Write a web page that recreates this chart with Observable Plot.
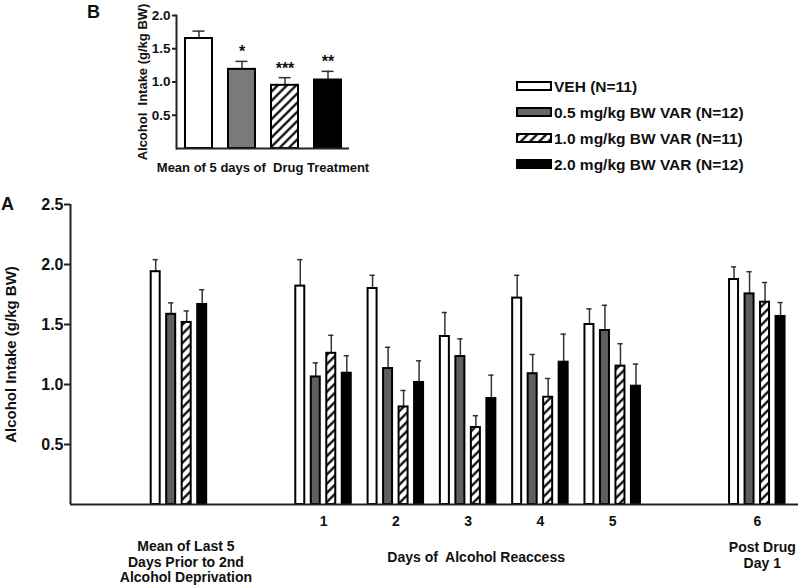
<!DOCTYPE html>
<html><head><meta charset="utf-8">
<script src="https://cdn.jsdelivr.net/npm/d3@7"></script>
<script src="https://cdn.jsdelivr.net/npm/@observablehq/plot@0.6"></script>
<style>
body{margin:0;background:#fff;width:800px;height:587px;position:relative;overflow:hidden;font-family:"Liberation Sans",Arial,sans-serif;}
#b{position:absolute;left:0;top:0}
#a{position:absolute;left:0;top:190px}
#legend{position:absolute;left:505px;top:70px}
#defs{position:absolute;left:0;top:0;width:0;height:0}
svg text{white-space:pre}
</style></head><body>
<svg id="defs" width="0" height="0"><defs>
<pattern id="hatch" patternUnits="userSpaceOnUse" width="6.5" height="6.5" patternTransform="rotate(45)">
<rect width="6.5" height="6.5" fill="#fff"/><line x1="3.25" y1="-1" x2="3.25" y2="8" stroke="#000" stroke-width="2.2"/></pattern>
</defs></svg>
<div id="b"></div><div id="legend"></div><div id="a"></div>
<script>
// ---------- data ----------
const series = ["VEH (N=11)", "0.5 mg/kg BW VAR (N=12)", "1.0 mg/kg BW VAR (N=11)", "2.0 mg/kg BW VAR (N=12)"];
const groupsA = ["pre", "1", "2", "3", "4", "5", "6"];
const meansA = [
  [1.94, 1.585, 1.517, 1.667],
  [1.82, 1.063, 1.26, 1.094],
  [1.80, 1.133, 0.813, 1.017],
  [1.40, 1.233, 0.642, 0.883],
  [1.72, 1.09, 0.894, 1.186],
  [1.50, 1.45, 1.153, 0.986],
  [1.875, 1.755, 1.686, 1.567]
];
const semA = [
  [0.10, 0.095, 0.096, 0.123],
  [0.22, 0.117, 0.15, 0.146],
  [0.11, 0.177, 0.137, 0.18],
  [0.20, 0.147, 0.098, 0.195],
  [0.19, 0.16, 0.156, 0.234],
  [0.13, 0.21, 0.187, 0.184],
  [0.105, 0.185, 0.164, 0.116]
];
const dayTicks = ["1", "2", "3", "4", "5", "6"];
const groupLabels = ["Mean of Last 5\nDays Prior to 2nd\nAlcohol Deprivation", "Days of  Alcohol Reaccess", "Post Drug\nDay 1"];
const yTicksA = [0.5, 1.0, 1.5, 2.0, 2.5];
const yLabel = "Alcohol Intake (g/kg BW)";
const yLabelB = "Alcohol  Intake (g/kg BW)";

const meansB = [1.654, 1.19, 0.95, 1.03];
const semB = [0.111, 0.12, 0.115, 0.13];
const starsB = ["", "*", "***", "**"];
const xLabelB = "Mean of 5 days of  Drug Treatment";
const yTicksB = [0.5, 1.0, 1.5, 2.0];

// ---------- styles / layout ----------
const FONT = '"Liberation Sans", Arial, sans-serif';
const fillsA = ["#ffffff", "#5f5f5f", "url(#hatch)", "#000000"];
const fillsB = ["#ffffff", "#7a7a7a", "url(#hatch)", "#000000"];
const fillsL = ["#ffffff", "#666666", "url(#hatch)", "#000000"];
const slotOf = new Map([["pre", 0], ["1", 2], ["2", 3], ["3", 4], ["4", 5], ["5", 6], ["6", 8]]);
const step = 0.2144, half = 0.0622, cap = 0.036;

const rowsA = groupsA.flatMap((g, gi) => series.map((s, si) => ({
  g, s, si, mean: meansA[gi][si], top: meansA[gi][si] + semA[gi][si],
  cx: slotOf.get(g) + (si - 1.5) * step
})));

const labelX = [slotOf.get("pre"), d3.mean(["1","2","3","4","5"], d => slotOf.get(d)), slotOf.get("6")];
const groupText = (i, dx, dy) => Plot.text([groupLabels[i]], {x: labelX[i], y: 0, dx, dy, lineAnchor: "top", lineHeight: 1.1, fontSize: 14});

const plotA = Plot.plot({
  width: 800, height: 397, marginLeft: 70, marginRight: 2, marginTop: 14, marginBottom: 83,
  x: {domain: [-1.5, 8.57], axis: null},
  y: {domain: [0, 2.5], axis: null},
  color: {domain: series, range: fillsA},
  style: {fontFamily: FONT, fontWeight: "bold", color: "#111", background: "transparent", overflow: "visible"},
  marks: [
    Plot.ruleX(rowsA, {x: "cx", y1: "mean", y2: "top", stroke: "#333", strokeWidth: 1.5}),
    Plot.ruleY(rowsA, {y: "top", x1: d => d.cx - cap, x2: d => d.cx + cap, stroke: "#333", strokeWidth: 1.5}),
    Plot.rect(rowsA, {x1: d => d.cx - half, x2: d => d.cx + half, y1: 0, y2: "mean", fill: "s", stroke: "#000", strokeWidth: 2}),
    Plot.ruleX([-1.5], {stroke: "#222", strokeWidth: 2}),
    Plot.ruleY([0], {stroke: "#222", strokeWidth: 2}),
    Plot.axisY({ticks: yTicksA, tickFormat: d3.format(".1f"), tickSize: 6, tickPadding: 1, fontSize: 16, strokeWidth: 2, stroke: "#222", label: null}),
    Plot.axisX({ticks: dayTicks.map(d => slotOf.get(d)), tickFormat: v => dayTicks.find(d => slotOf.get(d) === v), tickSize: 0, tickPadding: 12, fontSize: 14, label: null}),
    groupText(0, 7, 36),
    groupText(1, 8, 47),
    groupText(2, 5, 37),
    Plot.text([yLabel], {frameAnchor: "left", textAnchor: "middle", lineAnchor: "middle", rotate: -90, dx: -59, fontSize: 15}),
    Plot.text(["A"], {frameAnchor: "top-left", textAnchor: "middle", lineAnchor: "middle", dx: -63, dy: 0, fontSize: 18})
  ]
});
document.getElementById("a").appendChild(plotA);

const rowsB = series.map((s, si) => ({s, si, mean: meansB[si], top: meansB[si] + semB[si], star: starsB[si]}));
const plotB = Plot.plot({
  width: 380, height: 180, marginLeft: 176, marginRight: 31, marginTop: 15, marginBottom: 32,
  x: {domain: series, paddingInner: 0.375, paddingOuter: 0.193, axis: null},
  y: {domain: [0, 2], axis: null},
  color: {domain: series, range: fillsB},
  style: {fontFamily: FONT, fontWeight: "bold", color: "#111", background: "transparent", overflow: "visible"},
  marks: [
    Plot.ruleX(rowsB, {x: "s", y1: "mean", y2: "top", stroke: "#333", strokeWidth: 1.5}),
    Plot.tickY(rowsB, {x: "s", y: "top", inset: 7.5, stroke: "#333", strokeWidth: 1.5}),
    Plot.barY(rowsB, {x: "s", y: "mean", fill: "s", stroke: "#000", strokeWidth: 2}),
    Plot.text(rowsB, {x: "s", y: "top", text: "star", dy: -4, lineAnchor: "bottom", fontSize: 16}),
    Plot.frame({anchor: "left", stroke: "#222", strokeWidth: 2}),
    Plot.ruleY([0], {stroke: "#222", strokeWidth: 2}),
    Plot.axisY({ticks: yTicksB, tickFormat: d3.format(".1f"), tickSize: 4, tickPadding: 2, fontSize: 13.5, strokeWidth: 2, stroke: "#222", label: null}),
    Plot.text([xLabelB], {frameAnchor: "bottom", lineAnchor: "middle", dy: 19, fontSize: 13}),
    Plot.text([yLabelB], {frameAnchor: "left", textAnchor: "middle", lineAnchor: "middle", rotate: -90, dx: -34, fontSize: 13}),
    Plot.text(["B"], {frameAnchor: "top-left", textAnchor: "middle", lineAnchor: "middle", dx: -83, dy: -3, fontSize: 18})
  ]
});
document.getElementById("b").appendChild(plotB);

// ---------- legend ----------
const lg = d3.select("#legend").append("svg").attr("width", 295).attr("height", 110)
  .style("font-family", FONT).style("font-weight", "bold");
series.forEach((s, i) => {
  const cy = 16 + i * 26;
  lg.append("rect").attr("x", 12).attr("y", cy - 4).attr("width", 34).attr("height", 8)
    .attr("fill", fillsL[i]).attr("stroke", "#000").attr("stroke-width", 2);
  lg.append("text").attr("x", 49).attr("y", cy + 5.5).attr("font-size", 15.5).attr("fill", "#111").text(s);
});
</script>
</body></html>
